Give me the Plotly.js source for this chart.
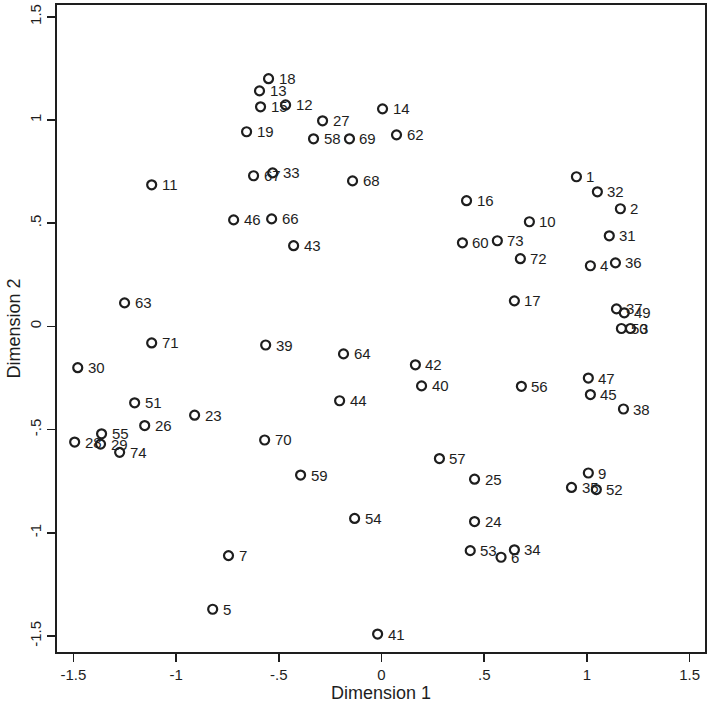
<!DOCTYPE html>
<html>
<head>
<meta charset="utf-8">
<script src="https://cdn.plot.ly/plotly-3.0.1.min.js"></script>
<style>html,body{margin:0;padding:0;background:#fff;}#chart{width:709px;height:705px;}</style>
</head>
<body>
<div id="chart"></div>
<script>
const labels = ["18","13","15","12","27","14","19","58","69","62","67","33","68","11","46","66","43",
  "1","32","2","16","10","60","73","31","72","4","36","17","37","49","50","3",
  "63","71","39","64","42","40","30","51","23","26","55","28","29","74","44","56","47","45","38",
  "70","59","57","25","9","35","52","54","24","53","6","34","7","5","41"];
const dim1 = [-0.55,-0.594,-0.589,-0.467,-0.287,0.005,-0.657,-0.331,-0.156,0.073,-0.623,-0.530,-0.141,-1.119,-0.720,-0.535,-0.428,
  0.949,1.051,1.163,0.414,0.720,0.394,0.564,1.109,0.676,1.017,1.139,0.647,1.144,1.182,1.168,1.212,
  -1.251,-1.119,-0.564,-0.185,0.165,0.195,-1.479,-1.202,-0.910,-1.153,-1.363,-1.494,-1.368,-1.275,-0.204,0.681,1.007,1.017,1.178,
  -0.569,-0.394,0.282,0.453,1.007,0.925,1.046,-0.131,0.453,0.432,0.582,0.647,-0.745,-0.822,-0.019];
const dim2 = [1.20,1.141,1.064,1.073,0.996,1.054,0.943,0.909,0.909,0.928,0.730,0.744,0.705,0.686,0.516,0.521,0.391,
  0.725,0.652,0.570,0.609,0.507,0.405,0.415,0.439,0.328,0.294,0.308,0.124,0.085,0.066,-0.01,-0.01,
  0.114,-0.08,-0.09,-0.133,-0.186,-0.288,-0.20,-0.37,-0.43,-0.48,-0.52,-0.56,-0.57,-0.61,-0.36,-0.29,-0.25,-0.33,-0.40,
  -0.55,-0.72,-0.64,-0.74,-0.71,-0.78,-0.79,-0.93,-0.945,-1.086,-1.118,-1.082,-1.11,-1.37,-1.49];
const tickVals = [-1.5,-1,-0.5,0,0.5,1,1.5];
const tickText = ["-1.5","-1","-.5","0",".5","1","1.5"];

const font = "Liberation Sans, Arial, sans-serif";
const ink = "#1e1e1e";
const trace = {
  x: dim1, y: dim2,
  mode: "markers", type: "scatter",
  marker: {symbol: "circle-open", size: 9, color: ink, line: {width: 2.2, color: ink}},
  hoverinfo: "none", cliponaxis: false
};
const annotations = labels.map((t, i) => ({
  x: dim1[i], y: dim2[i], xref: "x", yref: "y", text: t,
  showarrow: false, xanchor: "left", yanchor: "middle", xshift: 8, yshift: 0,
  font: {family: font, size: 15, color: ink}
}));
const axisCommon = {
  tickvals: tickVals, ticktext: tickText,
  ticks: "outside", ticklen: 8, tickwidth: 1.5, tickcolor: ink,
  showline: true, linecolor: ink, linewidth: 1.7, mirror: true,
  showgrid: false, zeroline: false,
  tickfont: {family: font, size: 15, color: ink}
};
const layout = {
  width: 709, height: 705,
  margin: {l: 57, r: 4, t: 5, b: 53},
  paper_bgcolor: "#fff", plot_bgcolor: "#fff",
  showlegend: false,
  annotations: annotations,
  xaxis: Object.assign({}, axisCommon, {
    range: [-1.58, 1.575],
    title: {text: "Dimension 1", font: {family: font, size: 18, color: ink}, standoff: 0}
  }),
  yaxis: Object.assign({}, axisCommon, {
    range: [-1.577, 1.557], tickangle: -90,
    title: {text: "Dimension 2", font: {family: font, size: 18, color: ink}, standoff: 2}
  })
};
Plotly.newPlot("chart", [trace], layout, {displayModeBar: false, staticPlot: true});
</script>
</body>
</html>
